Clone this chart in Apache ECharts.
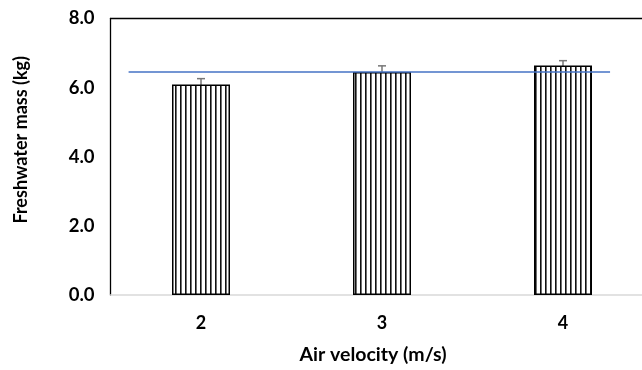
<!DOCTYPE html>
<html><head><meta charset="utf-8">
<script src="https://cdn.jsdelivr.net/npm/echarts@6/dist/echarts.min.js"></script>
<style>html,body{margin:0;padding:0;background:#fff;overflow:hidden}#c{width:680px;height:370px}</style>
</head><body><div id="c"></div>
<script>
const categories = ['2', '3', '4'];
const freshwater = [6.09, 6.45, 6.64];
const errors = [0.17, 0.18, 0.14];
const refValue = 6.45;
const refSpan = [0.1, 2.76];
const yTicks = [0, 2, 4, 6, 8];

const pc = document.createElement('canvas');
pc.width = 5; pc.height = 10;
const ctx = pc.getContext('2d');
ctx.fillStyle = '#fff'; ctx.fillRect(0, 0, 5, 10);
ctx.fillStyle = '#111'; ctx.fillRect(0, 0, 1.6, 10);

const chart = echarts.init(document.getElementById('c'), null, {renderer: 'canvas'});
const font = 'Lato, "Open Sans", sans-serif';
chart.setOption({
  animation: false,
  grid: {left: 110.5, top: 18.5, width: 543, height: 278},
  xAxis: [{
    type: 'category', data: categories,
    axisLine: {lineStyle: {color: '#d9d9d9', width: 1.5}},
    axisTick: {show: false},
    axisLabel: {fontFamily: font, fontWeight: 'bold', fontSize: 18, color: '#000', margin: 19},
    name: 'Air velocity (m/s)', nameLocation: 'middle', nameGap: 50,
    nameTextStyle: {fontFamily: font, fontWeight: 'bold', fontSize: 19.5, color: '#000', padding: [0, 18, 0, 0]}
  }, {
    type: 'value', min: 0, max: 3, position: 'top',
    axisLine: {show: true, lineStyle: {color: '#000', width: 1.3}},
    axisTick: {show: false}, axisLabel: {show: false}, splitLine: {show: false}
  }],
  yAxis: {
    type: 'value', min: yTicks[0], max: yTicks[yTicks.length - 1], interval: 2,
    axisLine: {show: true, lineStyle: {color: '#000', width: 1.3}},
    axisTick: {show: false}, splitLine: {show: false},
    axisLabel: {fontFamily: font, fontWeight: 'bold', fontSize: 18.5, color: '#000', margin: 16, formatter: v => v.toFixed(1)},
    name: 'Freshwater mass (kg)', nameLocation: 'middle', nameGap: 80, nameRotate: 90,
    nameTextStyle: {fontFamily: font, fontWeight: 'bold', fontSize: 18, color: '#000', padding: [0, 0, 0, 34]}
  },
  series: [{
    type: 'bar', data: freshwater, barWidth: 58, xAxisIndex: 0,
    itemStyle: {color: {image: pc, repeat: 'repeat'}, borderColor: '#000', borderWidth: 1.5}
  }, {
    type: 'custom', xAxisIndex: 0,
    data: freshwater.map((v, i) => [i, v - errors[i], v + errors[i]]),
    renderItem: (params, api) => {
      const lo = api.coord([api.value(0), api.value(1)]);
      const hi = api.coord([api.value(0), api.value(2)]);
      const w = 4;
      const st = {stroke: '#777', lineWidth: 1.5};
      return {type: 'group', children: [
        {type: 'line', shape: {x1: hi[0], y1: hi[1], x2: lo[0], y2: lo[1]}, style: st},
        {type: 'line', shape: {x1: hi[0] - w, y1: hi[1], x2: hi[0] + w, y2: hi[1]}, style: st},
        {type: 'line', shape: {x1: lo[0] - w, y1: lo[1], x2: lo[0] + w, y2: lo[1]}, style: st}
      ]};
    }
  }, {
    type: 'line', xAxisIndex: 1, symbol: 'none',
    data: refSpan.map(x => [x, refValue]),
    lineStyle: {color: '#4472C4', width: 1.5}
  }]
});
</script></body></html>
